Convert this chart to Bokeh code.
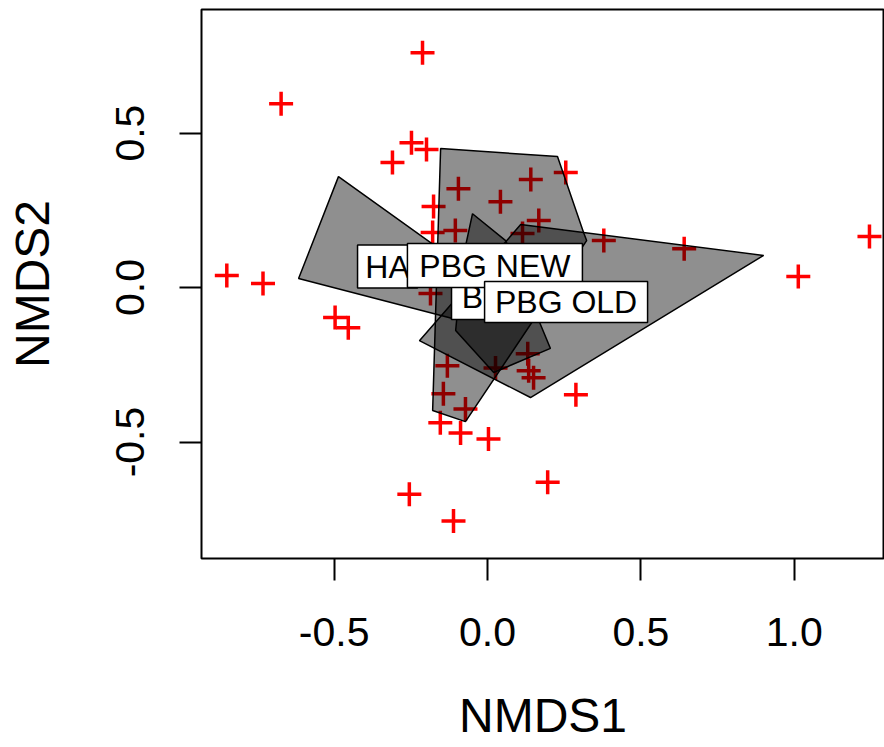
from bokeh.plotting import figure
from bokeh.models import Range1d, FixedTicker
from bokeh.core.properties import value
from bokeh.embed import file_html
from bokeh.resources import INLINE

# species scores (red crosses)
sp_x = [-0.212, -0.673, -0.248, -0.199, -0.310, -0.095, 0.141, 0.255, 0.042, -0.176,
        -0.105, 0.167, 0.114, 0.379, 0.641, 1.245, 1.013, -0.850, -0.732, -0.497,
        -0.454, -0.179, -0.131, -0.144, -0.072, -0.154, -0.088, 0.003, 0.131, 0.134,
        0.150, 0.026, 0.288, -0.255, -0.111, 0.196, -0.186]
sp_y = [0.760, 0.595, 0.469, 0.447, 0.405, 0.320, 0.350, 0.372, 0.278, 0.262,
        0.185, 0.217, 0.175, 0.152, 0.126, 0.165, 0.036, 0.039, 0.013, -0.097,
        -0.130, 0.178, -0.253, -0.344, -0.393, -0.438, -0.471, -0.490, -0.214, -0.269,
        -0.292, -0.260, -0.347, -0.669, -0.756, -0.630, -0.019]

# convex hulls of the groups
groups = ["B", "HA", "PBG NEW", "PBG OLD"]
hull_B_x = [-0.049, 0.059, 0.205, 0.020, -0.104, -0.082]
hull_B_y = [0.239, 0.152, -0.197, -0.275, -0.139, 0.087]
hull_HA_x = [-0.486, -0.616, -0.114, -0.095]
hull_HA_y = [0.359, 0.029, -0.100, 0.081]
hull_NEW_x = [-0.153, 0.228, 0.313, 0.323, -0.072, -0.179]
hull_NEW_y = [0.450, 0.424, 0.178, 0.152, -0.434, -0.398]
hull_OLD_x = [-0.222, 0.140, 0.900, 0.108]
hull_OLD_y = [-0.172, -0.356, 0.104, 0.204]

# group label positions
label_x = [-0.049, -0.326, 0.024, 0.256]
label_y = [-0.032, 0.068, 0.071, -0.047]

x_ticks = [-0.5, 0.0, 0.5, 1.0]
x_tick_labels = ["-0.5", "0.0", "0.5", "1.0"]
y_ticks = [-0.5, 0.0, 0.5]
y_tick_labels = ["-0.5", "0.0", "0.5"]
x_title = "NMDS1"
y_title = "NMDS2"

FONT = "Liberation Sans"

p = figure(width=884, height=747, output_backend="svg", toolbar_location=None,
           x_range=Range1d(-0.9325, 1.294), y_range=Range1d(-0.877, 0.900),
           min_border_left=201, min_border_right=0, min_border_top=9,
           min_border_bottom=189)
p.xgrid.visible = False
p.ygrid.visible = False
p.outline_line_color = "black"
p.outline_line_width = 2
p.background_fill_color = "white"
p.border_fill_color = "white"

# points
p.scatter(sp_x, sp_y, marker="cross", size=24, line_color="red", line_width=3.5)

# hulls
p.patches([hull_B_x, hull_HA_x, hull_NEW_x, hull_OLD_x],
          [hull_B_y, hull_HA_y, hull_NEW_y, hull_OLD_y],
          fill_color="black", fill_alpha=0.44, line_color="black", line_width=1.5)

# labels with white boxes
box_w = [42, 60, 175, 163]
box_h = [44, 43, 44, 41]
for i in range(len(groups)):
    p.rect([label_x[i]], [label_y[i]], width=box_w[i], height=box_h[i],
           width_units="screen", height_units="screen",
           fill_color="white", line_color="black", line_width=1.5)
    p.text([label_x[i]], [label_y[i]], text=[groups[i]], text_align="center",
           text_baseline="middle", text_font_size="32px", text_color="black",
           text_font=value(FONT))

for ax, ticks, labs, title in ((p.xaxis[0], x_ticks, x_tick_labels, x_title),
                               (p.yaxis[0], y_ticks, y_tick_labels, y_title)):
    ax.ticker = FixedTicker(ticks=ticks)
    ax.major_label_overrides = {t: l for t, l in zip(ticks, labs)}
    ax.axis_label = title
    ax.axis_line_color = None
    ax.major_tick_out = 22
    ax.major_tick_in = 0
    ax.major_tick_line_width = 2
    ax.major_tick_line_color = "black"
    ax.minor_tick_line_color = None
    ax.major_label_text_font = FONT
    ax.major_label_text_font_size = "41px"
    ax.major_label_text_color = "black"
    ax.axis_label_text_font = FONT
    ax.axis_label_text_font_size = "48px"
    ax.axis_label_text_font_style = "normal"
    ax.axis_label_text_color = "black"

p.xaxis.major_label_standoff = 37
p.xaxis.axis_label_standoff = 40
p.yaxis.major_label_orientation = "vertical"
p.yaxis.major_label_standoff = 35
p.yaxis.axis_label_standoff = 55

open("out.html", "w").write(file_html(p, INLINE))
